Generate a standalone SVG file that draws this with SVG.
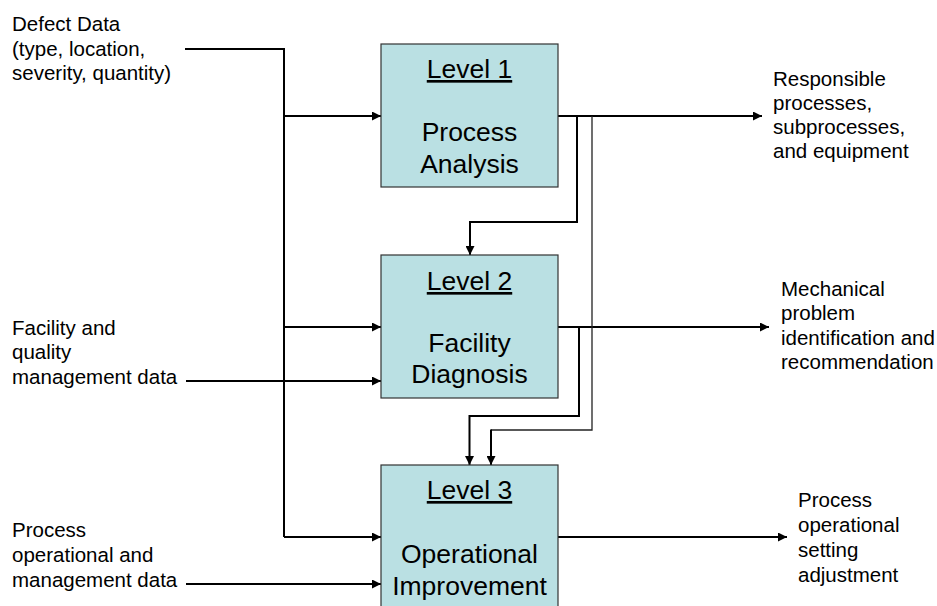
<svg xmlns="http://www.w3.org/2000/svg" width="937" height="606" viewBox="0 0 937 606">
  <defs>
    <marker id="arrow" viewBox="0 0 10 10" refX="10" refY="5" markerWidth="10" markerHeight="9" markerUnits="userSpaceOnUse" orient="auto">
      <path d="M0,0 L10,5 L0,10 Z" fill="#000"/>
    </marker>
    <style>
      .box { fill: #BAE0E3; stroke: #333; stroke-width: 1.2; }
      .ttl { font-family: "Liberation Sans", Arial, sans-serif; font-size: 26.5px; fill: #000; text-anchor: middle; }
      .ul { text-decoration: underline; }
      .lbl { font-family: "Liberation Sans", Arial, sans-serif; font-size: 20.5px; fill: #000; }
      .wire { fill: none; stroke: #000; stroke-width: 2; }
      .thin { fill: none; stroke: #222; stroke-width: 1.3; }
    </style>
  </defs>
  <rect width="937" height="606" fill="#fff"/>

  <!-- connectors -->
  <g id="connectors">
    <!-- defect data bus -->
    <path class="wire" d="M185,49 H284 V537"/>
    <path class="wire" d="M284,116 H381" marker-end="url(#arrow)"/>
    <path class="wire" d="M284,327 H381" marker-end="url(#arrow)"/>
    <path class="wire" d="M284,537 H381" marker-end="url(#arrow)"/>
    <!-- facility / quality data -->
    <path class="wire" d="M186,381 H381" marker-end="url(#arrow)"/>
    <!-- process operational data -->
    <path class="wire" d="M186,584 H381" marker-end="url(#arrow)"/>
    <!-- outputs -->
    <path class="wire" d="M558,116 H762" marker-end="url(#arrow)"/>
    <path class="wire" d="M558,327 H769" marker-end="url(#arrow)"/>
    <path class="wire" d="M558,537 H787" marker-end="url(#arrow)"/>
    <!-- level 1 to level 2 -->
    <path class="wire" d="M577,116 V222 H470 V255" marker-end="url(#arrow)"/>
    <!-- level 2 to level 3 -->
    <path class="wire" d="M579,327 V416 H469.5 V465" marker-end="url(#arrow)"/>
    <!-- level 1 to level 3 (thin) -->
    <path class="thin" d="M592,116 V430 H491"/>
    <path class="wire" d="M491,429.5 V465" marker-end="url(#arrow)"/>
  </g>

  <!-- level boxes -->
  <g id="level1">
    <rect class="box" x="381" y="44" width="177" height="143"/>
    <text class="ttl ul" x="469.5" y="78">Level 1</text>
    <text class="ttl" x="469.5" y="140.5">Process</text>
    <text class="ttl" x="469.5" y="172.5">Analysis</text>
  </g>
  <g id="level2">
    <rect class="box" x="381" y="255" width="177" height="143"/>
    <text class="ttl ul" x="469.5" y="290">Level 2</text>
    <text class="ttl" x="469.5" y="351.5">Facility</text>
    <text class="ttl" x="469.5" y="383">Diagnosis</text>
  </g>
  <g id="level3">
    <rect class="box" x="381" y="465" width="177" height="160"/>
    <text class="ttl ul" x="469.5" y="499">Level 3</text>
    <text class="ttl" x="469.5" y="563">Operational</text>
    <text class="ttl" x="469.5" y="595">Improvement</text>
  </g>

  <!-- input labels -->
  <g id="in-defect">
    <text class="lbl" x="12" y="31">Defect Data</text>
    <text class="lbl" x="12" y="55.5">(type, location,</text>
    <text class="lbl" x="12" y="80">severity, quantity)</text>
  </g>
  <g id="in-facility">
    <text class="lbl" x="12" y="335">Facility and</text>
    <text class="lbl" x="12" y="359">quality</text>
    <text class="lbl" x="12" y="383.5">management data</text>
  </g>
  <g id="in-process">
    <text class="lbl" x="12" y="537">Process</text>
    <text class="lbl" x="12" y="562">operational and</text>
    <text class="lbl" x="12" y="587">management data</text>
  </g>

  <!-- output labels -->
  <g id="out-responsible">
    <text class="lbl" x="773" y="86">Responsible</text>
    <text class="lbl" x="773" y="110">processes,</text>
    <text class="lbl" x="773" y="134">subprocesses,</text>
    <text class="lbl" x="773" y="158">and equipment</text>
  </g>
  <g id="out-mechanical">
    <text class="lbl" x="781" y="296">Mechanical</text>
    <text class="lbl" x="781" y="320">problem</text>
    <text class="lbl" x="781" y="345">identification and</text>
    <text class="lbl" x="781" y="369">recommendation</text>
  </g>
  <g id="out-setting">
    <text class="lbl" x="798" y="507">Process</text>
    <text class="lbl" x="798" y="532">operational</text>
    <text class="lbl" x="798" y="557">setting</text>
    <text class="lbl" x="798" y="582">adjustment</text>
  </g>
</svg>
